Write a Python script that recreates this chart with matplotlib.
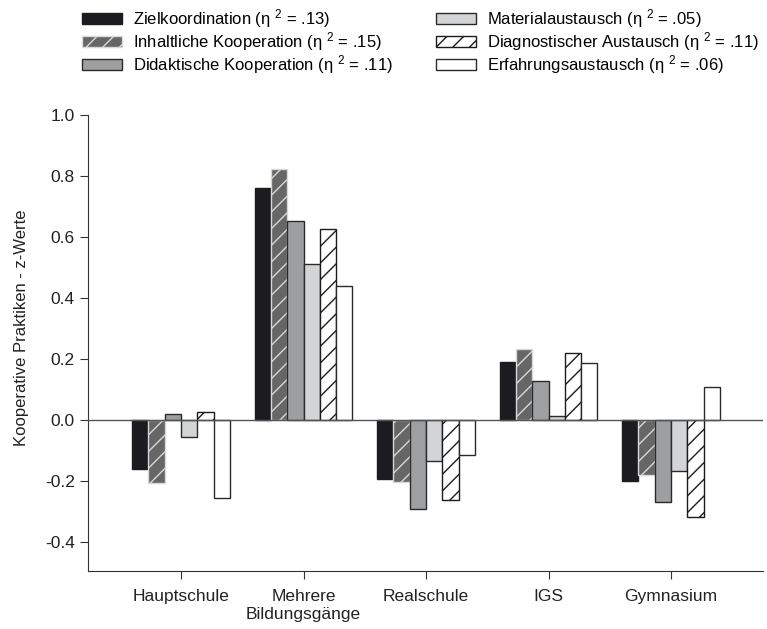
import matplotlib
matplotlib.use("Agg")
import matplotlib.pyplot as plt
import numpy as np

plt.rcParams['font.family'] = ['Liberation Sans', 'DejaVu Sans']
plt.rcParams['font.size'] = 12.5
plt.rcParams['axes.unicode_minus'] = False
plt.rcParams['mathtext.default'] = 'regular'
plt.rcParams['hatch.linewidth'] = 1.0

# data
groups = ["Hauptschule", "Mehrere\nBildungsgänge", "Realschule", "IGS", "Gymnasium"]
series = ["Zielkoordination (η $^2$ = .13)",
          "Inhaltliche Kooperation (η $^2$ = .15)",
          "Didaktische Kooperation (η $^2$ = .11)",
          "Materialaustausch (η $^2$ = .05)",
          "Diagnostischer Austausch (η $^2$ = .11)",
          "Erfahrungsaustausch (η $^2$ = .06)"]
ziel = [-0.16, 0.762, -0.192, 0.190, -0.200]
inhalt = [-0.205, 0.824, -0.202, 0.232, -0.180]
didakt = [0.020, 0.651, -0.292, 0.127, -0.268]
material = [-0.055, 0.510, -0.134, 0.012, -0.168]
diagnos = [0.025, 0.626, -0.262, 0.219, -0.317]
erfahr = [-0.255, 0.440, -0.114, 0.186, 0.107]
values = [ziel, inhalt, didakt, material, diagnos, erfahr]

faces = ["#1c1b1f", "#666666", "#9e9fa1", "#d3d4d6", "white", "white"]
edges = ["#1c1b1f", "#d8d8d8", "#2a2a2a", "#2a2a2a", "#1c1b1f", "#2a2a2a"]
hatches = [None, "//", None, None, "//", None]

fig = plt.figure(figsize=(7.67, 6.29), dpi=100)
ax = fig.add_axes([0.1147, 0.0922, 0.88, 0.725])

x = np.arange(len(groups))
w = 0.133
for i, v in enumerate(values):
    ax.bar(x + (i - 2.5) * w, v, w, color=faces[i], edgecolor=edges[i],
           hatch=hatches[i], linewidth=1.0, label=series[i], zorder=2)

ax.axhline(0, color="#555555", linewidth=1.0, zorder=3)
ax.set_xlim(-0.76, 4.75)
ax.set_ylim(-0.495, 1.0)
ax.set_yticks([-0.4, -0.2, 0.0, 0.2, 0.4, 0.6, 0.8, 1.0])
ax.set_yticklabels(["%.1f" % t for t in ax.get_yticks()])
ax.set_xticks(x)
ax.set_xticklabels(groups, linespacing=1.25)
ax.spines['top'].set_visible(False)
ax.spines['right'].set_visible(False)
for s in ['left', 'bottom']:
    ax.spines[s].set_color("#333333")
ax.tick_params(direction='out', length=6, color="#333333", labelcolor="#222222")
ax.tick_params(axis='x', pad=7)
ax.set_ylabel("Kooperative Praktiken - z-Werte", color="#222222", labelpad=13,
              fontsize=12)
ax.yaxis.set_label_coords(-0.088, 0.533)

fig.legend(loc='upper left', bbox_to_anchor=(0.094, 1.005), ncol=2, frameon=False,
           handlelength=2.4, handleheight=0.65, handletextpad=0.65,
           columnspacing=2.6, labelspacing=0.0, borderaxespad=0.2, fontsize=12)

fig.savefig("out.png", dpi=100)
